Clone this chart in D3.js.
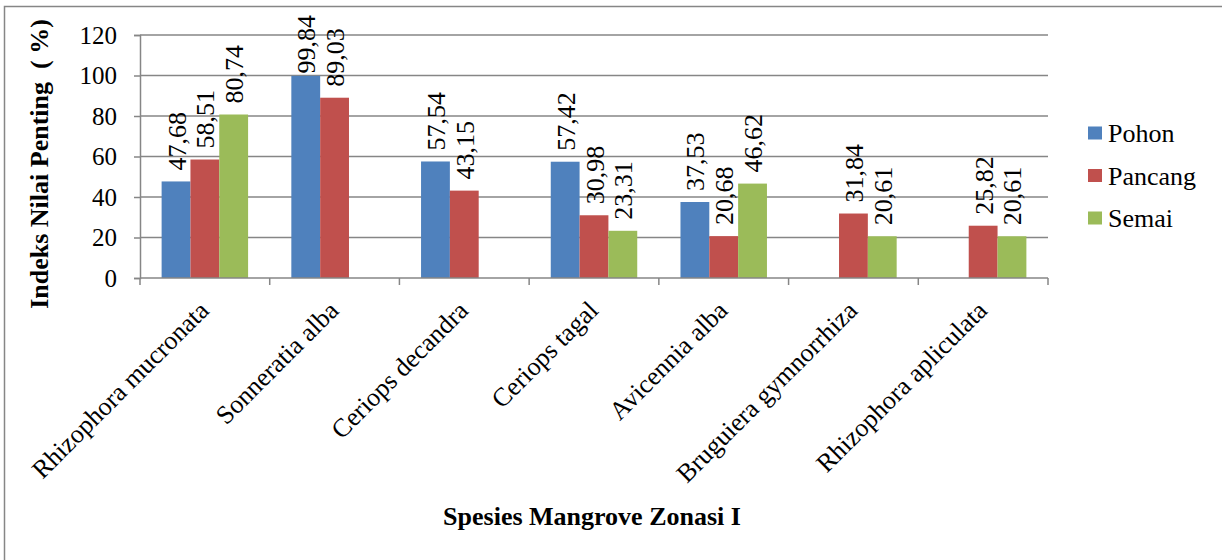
<!DOCTYPE html>
<html><head><meta charset="utf-8">
<script src="https://cdn.jsdelivr.net/npm/d3@7"></script>
<style>body{margin:0;background:#fff}svg{display:block}</style>
</head><body><svg id="c" width="1222" height="560"></svg>
<script>
const categories = ["Rhizophora mucronata","Sonneratia alba","Ceriops decandra","Ceriops tagal","Avicennia alba","Bruguiera gymnorrhiza","Rhizophora apliculata"];
const seriesNames = ["Pohon","Pancang","Semai"];
const pohon   = [47.68, 99.84, 57.54, 57.42, 37.53, null, null];
const pancang = [58.51, 89.03, 43.15, 30.98, 20.68, 31.84, 25.82];
const semai   = [80.74, null, null, 23.31, 46.62, 20.61, 20.61];
const yTicks = [0,20,40,60,80,100,120];
const colors = ["#4F81BD","#C0504D","#9BBB59"];
const seriesVals = [pohon, pancang, semai];

const svg = d3.select("#c");
const font = "'Liberation Serif','Times New Roman',serif";
const L = 140, R = 1048, T = 35, B = 278;
const FS = 26;

svg.append("rect").attr("x",4.5).attr("y",6.5).attr("width",1240).attr("height",580)
  .attr("fill","#fff").attr("stroke","#868686").attr("stroke-width",1.5);

const x0 = d3.scaleBand().domain(categories).range([L,R]).paddingInner(0).paddingOuter(0);
const x1 = d3.scaleBand().domain(seriesNames).range([0,x0.bandwidth()]).paddingInner(0).paddingOuter(0.75);
const y = d3.scaleLinear().domain([0,120]).range([B,T]);

// gridlines
svg.append("g").selectAll("line").data(yTicks.filter(d=>d>0)).join("line")
  .attr("x1",L).attr("x2",R).attr("y1",d=>y(d)).attr("y2",d=>y(d))
  .attr("stroke","#868686").attr("stroke-width",1.5);

// bars
const rows = [];
categories.forEach((c,i)=>seriesNames.forEach((s,j)=>{
  const v = seriesVals[j][i];
  if(v!=null) rows.push({c,s,v,j});
}));
svg.append("g").selectAll("rect").data(rows).join("rect")
  .attr("x",d=>x0(d.c)+x1(d.s)).attr("width",x1.bandwidth())
  .attr("y",d=>y(d.v)).attr("height",d=>y(0)-y(d.v))
  .attr("fill",d=>colors[d.j]);

// y axis
const ya = svg.append("g").attr("transform",`translate(${L},0)`)
  .call(d3.axisLeft(y).tickValues(yTicks).tickSize(6).tickPadding(17));
ya.select(".domain").attr("stroke","#868686").attr("stroke-width",1.5);
ya.selectAll(".tick line").attr("stroke","#868686").attr("stroke-width",1.5);
ya.selectAll("text").attr("font-family",font).attr("font-size",25).attr("fill","#000");

// x axis
const xa = svg.append("g").attr("transform",`translate(0,${B})`);
xa.append("line").attr("x1",L).attr("x2",R).attr("stroke","#868686").attr("stroke-width",1.5);
xa.selectAll("line.t").data(d3.range(categories.length+1)).join("line").attr("class","t")
  .attr("x1",i=>L+i*x0.bandwidth()).attr("x2",i=>L+i*x0.bandwidth())
  .attr("y1",0).attr("y2",7).attr("stroke","#868686").attr("stroke-width",1.5);
xa.selectAll("text").data(categories).join("text")
  .attr("transform",d=>`translate(${x0(d)+x0.bandwidth()/2+5.5},34) rotate(-45)`)
  .attr("text-anchor","end")
  .attr("font-family",font).attr("font-size",FS).text(d=>d);

// data labels
const fmt = v => d3.format(".2f")(v).replace(".",",");
const lbl = svg.append("g").selectAll("text").data(rows).join("text")
  .attr("font-family",font).attr("font-size",FS).text(d=>fmt(d.v));
lbl.each(function(d){
  const len = this.getComputedTextLength();
  const base = Math.max(y(d.v)-11, 15+len);
  d3.select(this).attr("transform",`translate(${x0(d.c)+x1(d.s)+x1.bandwidth()/2+9.5},${base}) rotate(-90)`);
});

// axis titles
svg.append("text").attr("transform",`translate(48,164) rotate(-90)`)
  .attr("text-anchor","middle").attr("font-family",font).attr("font-size",FS).attr("font-weight","bold")
  .style("white-space","pre").text("Indeks Nilai Penting  ( %)");
svg.append("text").attr("x",592).attr("y",525).attr("text-anchor","middle")
  .attr("font-family",font).attr("font-size",FS).attr("font-weight","bold").text("Spesies Mangrove Zonasi I");

// legend
const lg = svg.append("g").attr("transform","translate(1088,133)");
seriesNames.forEach((s,i)=>{
  lg.append("rect").attr("x",0).attr("y",i*42.5-6.5).attr("width",14).attr("height",13).attr("fill",colors[i]);
  lg.append("text").attr("x",20).attr("y",i*42.5+9)
    .attr("font-family",font).attr("font-size",FS).text(s);
});
</script></body></html>
